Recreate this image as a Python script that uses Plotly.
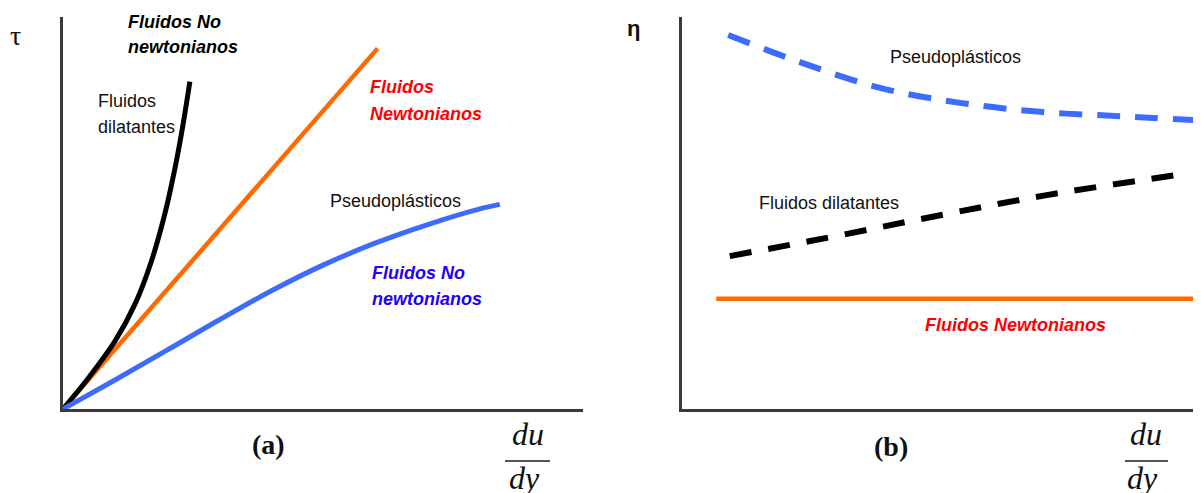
import plotly.graph_objects as go

# Browser body has an 8px margin; the figure is sized to fill the remaining window.
OFF = 8
W, H = 1201 - OFF, 493 - OFF

# ---- Panel (a): shear stress vs shear rate ----
newt_x = [0.0, 6.05]
newt_y = [0.0, 9.2]
dil_x = [0.0, 0.5, 1.0, 1.4, 1.7, 1.95, 2.15, 2.3, 2.44]
dil_y = [0.0, 0.81, 1.73, 2.72, 3.77, 4.93, 6.12, 7.19, 8.35]
pseudo_x = [0.0, 1.0, 2.0, 3.0, 4.0, 5.0, 6.0, 7.0, 8.0, 8.4]
pseudo_y = [0.0, 0.74, 1.50, 2.27, 3.01, 3.67, 4.23, 4.70, 5.10, 5.22]

# ---- Panel (b): viscosity vs shear rate ----
b_pseudo_x = [0.89, 2.27, 3.82, 5.36, 6.90, 8.44, 9.88]
b_pseudo_y = [9.54, 8.85, 8.19, 7.81, 7.58, 7.47, 7.37]
b_dil_x = [0.92, 3.0, 5.0, 7.0, 9.54]
b_dil_y = [3.9, 4.42, 4.95, 5.45, 5.97]
b_newt_x = [0.66, 10.0]
b_newt_y = [2.81, 2.81]

ORANGE = "#ff6a00"
BLUE = "#3d6bff"
BLACK = "#000000"

fig = go.Figure()
fig.add_trace(go.Scatter(x=newt_x, y=newt_y, mode="lines", line=dict(color=ORANGE, width=4.5), xaxis="x", yaxis="y"))
fig.add_trace(go.Scatter(x=dil_x, y=dil_y, mode="lines", line=dict(color=BLACK, width=5, shape="spline", smoothing=1), xaxis="x", yaxis="y"))
fig.add_trace(go.Scatter(x=pseudo_x, y=pseudo_y, mode="lines", line=dict(color=BLUE, width=5, shape="spline", smoothing=1), xaxis="x", yaxis="y"))

fig.add_trace(go.Scatter(x=b_pseudo_x, y=b_pseudo_y, mode="lines", line=dict(color=BLUE, width=6, dash="23px,15px", shape="spline"), xaxis="x2", yaxis="y2"))
fig.add_trace(go.Scatter(x=b_dil_x, y=b_dil_y, mode="lines", line=dict(color=BLACK, width=6, dash="22px,17px", shape="spline"), xaxis="x2", yaxis="y2"))
fig.add_trace(go.Scatter(x=b_newt_x, y=b_newt_y, mode="lines", line=dict(color=ORANGE, width=4.5), xaxis="x2", yaxis="y2"))

def px(x):
    return (x - OFF) / W

def py(y):
    return 1 - (y - OFF) / H

axis_common = dict(showgrid=False, zeroline=False, showticklabels=False, ticks="",
                   showline=True, linecolor="#3a3a3a", range=[0, 10], fixedrange=True)

fig.update_layout(
    width=W, height=H,
    margin=dict(l=0, r=0, t=0, b=0),
    paper_bgcolor="white", plot_bgcolor="white",
    showlegend=False,
    xaxis=dict(domain=[px(63), px(583)], anchor="y", linewidth=2.5, **axis_common),
    yaxis=dict(domain=[py(409), py(17)], anchor="x", linewidth=2.5, **axis_common),
    xaxis2=dict(domain=[px(682), 1.0], anchor="y2", linewidth=3, **axis_common),
    yaxis2=dict(domain=[py(409), py(17)], anchor="x2", linewidth=3, **axis_common),
)

SANS = "Liberation Sans, Arial, sans-serif"
SERIF = "Liberation Serif, Times New Roman, serif"

def label(text, x, y, size=18, color="#111111", family=SANS, xanchor="left", bold=False, italic=False):
    t = text
    if bold:
        t = "<b>" + t + "</b>"
    if italic:
        t = "<i>" + t + "</i>"
    fig.add_annotation(text=t, x=px(x), y=py(y), xref="paper", yref="paper",
                       xanchor=xanchor, yanchor="middle", showarrow=False,
                       font=dict(size=size, color=color, family=family))

# Panel (a) labels
label("τ", 15, 35, size=28, color="#111111", family=SERIF, xanchor="center")
label("Fluidos No", 126, 22, color=BLACK, bold=True, italic=True)
label("newtonianos", 126, 47, color=BLACK, bold=True, italic=True)
label("Fluidos", 96, 101)
label("dilatantes", 96, 127)
label("Fluidos", 368, 87, color="#ff0000", bold=True, italic=True)
label("Newtonianos", 368, 114, color="#ff0000", bold=True, italic=True)
label("Pseudoplásticos", 328, 201)
label("Fluidos No", 370, 273, color="#2200ff", bold=True, italic=True)
label("newtonianos", 370, 299, color="#2200ff", bold=True, italic=True)
label("(a)", 268, 444, size=28, color="#111111", family=SERIF, xanchor="center", bold=True)
label("du", 528, 434, size=32, color="#111111", family=SERIF, xanchor="center", italic=True)
label("dy", 524, 478, size=32, color="#111111", family=SERIF, xanchor="center", italic=True)

# Panel (b) labels
label("η", 633, 29, size=22, color="#111111", xanchor="center", bold=True)
label("Pseudoplásticos", 888, 57)
label("Fluidos dilatantes", 757, 203)
label("Fluidos Newtonianos", 923, 325, color="#ff0000", bold=True, italic=True)
label("(b)", 891, 446, size=28, color="#111111", family=SERIF, xanchor="center", bold=True)
label("du", 1146, 434, size=32, color="#111111", family=SERIF, xanchor="center", italic=True)
label("dy", 1142, 478, size=32, color="#111111", family=SERIF, xanchor="center", italic=True)

# fraction bars
for x0, x1 in [(505, 550), (1125, 1168)]:
    fig.add_shape(type="line", xref="paper", yref="paper", x0=px(x0), x1=px(x1), y0=py(461), y1=py(461),
                  line=dict(color="#555555", width=2))

fig.write_html("out.html")
